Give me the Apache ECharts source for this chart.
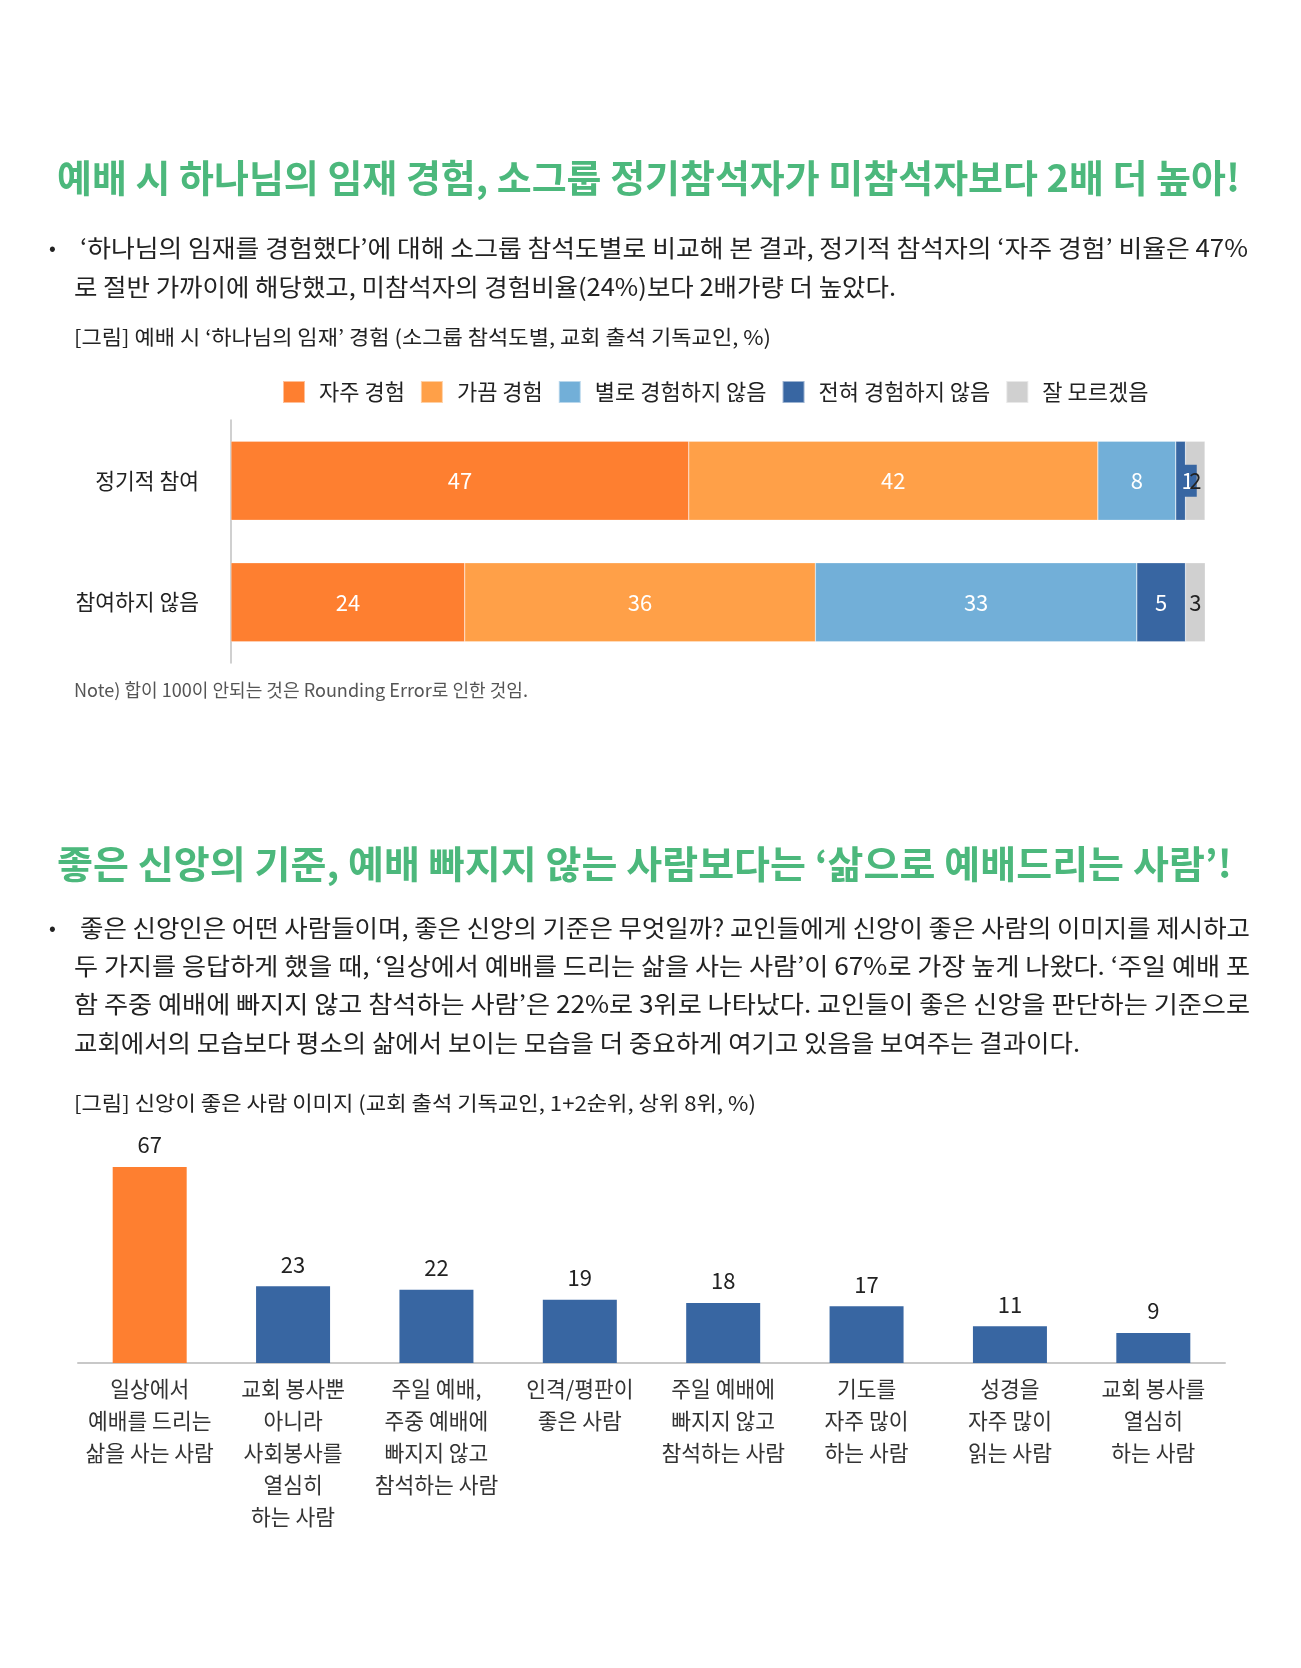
<!DOCTYPE html>
<html><head><meta charset="utf-8">
<script src="https://cdn.jsdelivr.net/npm/echarts@6/dist/echarts.min.js"></script>
<style>html,body{margin:0;padding:0;background:#fff}#c{width:1301px;height:1668px}</style>
</head><body><div id="c"></div>
<script>
// ---------- Data: chart 1 ----------
const rowCats = ['정기적 참여', '참여하지 않음'];
const seriesNames = ['자주 경험', '가끔 경험', '별로 경험하지 않음', '전혀 경험하지 않음', '잘 모르겠음'];
const often = [47, 24];
const sometimes = [42, 36];
const rarely = [8, 33];
const never = [1, 5];
const unsure = [2, 3];

// ---------- Data: chart 2 ----------
const imgCats = [
  '일상에서\n예배를 드리는\n삶을 사는 사람',
  '교회 봉사뿐\n아니라\n사회봉사를\n열심히\n하는 사람',
  '주일 예배,\n주중 예배에\n빠지지 않고\n참석하는 사람',
  '인격/평판이\n좋은 사람',
  '주일 예배에\n빠지지 않고\n참석하는 사람',
  '기도를\n자주 많이\n하는 사람',
  '성경을\n자주 많이\n읽는 사람',
  '교회 봉사를\n열심히\n하는 사람'
];
const imgVals = [67, 23, 22, 19, 18, 17, 11, 9];

// ---------- Texts ----------
const title1 = '예배 시 하나님의 임재 경험, 소그룹 정기참석자가 미참석자보다 2배 더 높아!';
const para1 = [
  '‘하나님의 임재를 경험했다’에 대해 소그룹 참석도별로 비교해 본 결과, 정기적 참석자의 ‘자주 경험’ 비율은 47%',
  '로 절반 가까이에 해당했고, 미참석자의 경험비율(24%)보다 2배가량 더 높았다.'
];
const caption1 = '[그림] 예배 시 ‘하나님의 임재’ 경험 (소그룹 참석도별, 교회 출석 기독교인, %)';
const note1 = 'Note) 합이 100이 안되는 것은 Rounding Error로 인한 것임.';
const title2 = '좋은 신앙의 기준, 예배 빠지지 않는 사람보다는 ‘삶으로 예배드리는 사람’!';
const para2 = [
  '좋은 신앙인은 어떤 사람들이며, 좋은 신앙의 기준은 무엇일까? 교인들에게 신앙이 좋은 사람의 이미지를 제시하고',
  '두 가지를 응답하게 했을 때, ‘일상에서 예배를 드리는 삶을 사는 사람’이 67%로 가장 높게 나왔다. ‘주일 예배 포',
  '함 주중 예배에 빠지지 않고 참석하는 사람’은 22%로 3위로 나타났다. 교인들이 좋은 신앙을 판단하는 기준으로',
  '교회에서의 모습보다 평소의 삶에서 보이는 모습을 더 중요하게 여기고 있음을 보여주는 결과이다.'
];
const caption2 = '[그림] 신앙이 좋은 사람 이미지 (교회 출석 기독교인, 1+2순위, 상위 8위, %)';

// ---------- Styles ----------
const FF = '"Noto Sans CJK KR", "Noto Sans", sans-serif';
const GREEN = '#4cb87c';
const C = ['#fe7f30', '#ffa048', '#72afd8', '#3866a2', '#d0d0d0'];
const TXT = '#222';

const mctx = document.createElement('canvas').getContext('2d');
function txt(text, x, y, size, weight, color, targetW) {
  mctx.font = weight + ' ' + size + 'px ' + FF;
  const w = mctx.measureText(text).width;
  const s = targetW ? targetW / w : 1;
  return {
    type: 'text', x: x, y: y, scaleX: s,
    style: { text: text, fontFamily: FF, fontSize: size, fontWeight: weight, fill: color, align: 'left', verticalAlign: 'middle' }
  };
}

const graphics = [
  txt(title1, 57, 178, 38, 'bold', GREEN, 1183),
  txt('•', 49, 247, 20, 'normal', TXT),
  txt(para1[0], 80, 248, 24, 'normal', TXT, 1168),
  txt(para1[1], 74, 287, 24, 'normal', TXT, 822),
  txt(caption1, 74, 337, 20.5, 'normal', TXT, 697),
  txt(note1, 74, 690, 18, 'normal', '#555', 454),
  txt(title2, 57, 864, 38, 'bold', GREEN, 1175),
  txt('•', 49, 927, 20, 'normal', TXT),
  txt(para2[0], 80, 928, 24, 'normal', TXT, 1170),
  txt(para2[1], 74, 966, 24, 'normal', TXT, 1176),
  txt(para2[2], 74, 1004, 24, 'normal', TXT, 1176),
  txt(para2[3], 74, 1043, 24, 'normal', TXT, 1006),
  txt(caption2, 74, 1103, 20.5, 'normal', TXT, 682)
];

// ---------- Chart 1 series ----------
const stackVals = [often, sometimes, rarely, never, unsure];
const stackSeries = stackVals.map(function (vals, si) {
  return {
    name: seriesNames[si], type: 'bar', stack: 'total', xAxisIndex: 0, yAxisIndex: 0,
    barWidth: 79, clip: true,
    itemStyle: { color: C[si], borderColor: 'rgba(255,255,255,0.5)', borderWidth: 0.5 },
    label: {
      show: true, position: 'inside', fontFamily: FF, fontSize: 22,
      color: si === 4 ? '#222' : '#fff'
    },
    data: vals.map(function (v, i) {
      if (si === 3 && v < 3) {
        return { value: v, label: { backgroundColor: C[3], padding: [5, 3], offset: [7, 0] } };
      }
      return v;
    })
  };
});

const option = {
  backgroundColor: '#fff',
  animation: false,
  textStyle: { fontFamily: FF },
  graphic: graphics,
  legend: {
    left: 282, top: 380, padding: 0,
    itemWidth: 22, itemHeight: 22, itemGap: 15, icon: 'rect',
    textStyle: { fontFamily: FF, fontSize: 22, color: TXT, padding: [0, 0, 0, 9] },
    data: seriesNames
  },
  grid: [
    { left: 231, right: 96, top: 420, bottom: 1005, containLabel: false },
    { left: 78, right: 76, top: 1157, bottom: 305, containLabel: false }
  ],
  xAxis: [
    { gridIndex: 0, type: 'value', min: 0, max: 100, show: false },
    {
      gridIndex: 1, type: 'category', data: imgCats,
      axisLine: { show: true, lineStyle: { color: '#c8c8c8', width: 2 } },
      axisTick: { show: false },
      axisLabel: { interval: 0, fontFamily: FF, fontSize: 21.5, lineHeight: 32, color: '#333', margin: 10, verticalAlign: 'top' }
    }
  ],
  yAxis: [
    {
      gridIndex: 0, type: 'category', data: rowCats, inverse: true,
      axisLine: { show: true, lineStyle: { color: '#c0c0c0', width: 1.5 } },
      axisTick: { show: false },
      axisLabel: { fontFamily: FF, fontSize: 21.5, color: TXT, margin: 32 }
    },
    {
      gridIndex: 1, type: 'value', min: 0, max: 70,
      breaks: [{ start: 30, end: 38.2, gap: 0 }],
      breakArea: { show: false },
      axisLine: { show: false }, axisTick: { show: false }, axisLabel: { show: false },
      splitLine: { show: false }
    }
  ],
  series: stackSeries.concat([
    {
      type: 'bar', xAxisIndex: 1, yAxisIndex: 1, barWidth: 74,
      itemStyle: { color: C[3] },
      label: { show: true, position: 'top', distance: 11, fontFamily: FF, fontSize: 22, color: '#222' },
      data: imgVals.map(function (v, i) { return i === 0 ? { value: v, itemStyle: { color: C[0] } } : v; })
    }
  ])
};

const chart = echarts.init(document.getElementById('c'), null, { renderer: 'canvas' });
chart.setOption(option);
</script>
</body></html>
